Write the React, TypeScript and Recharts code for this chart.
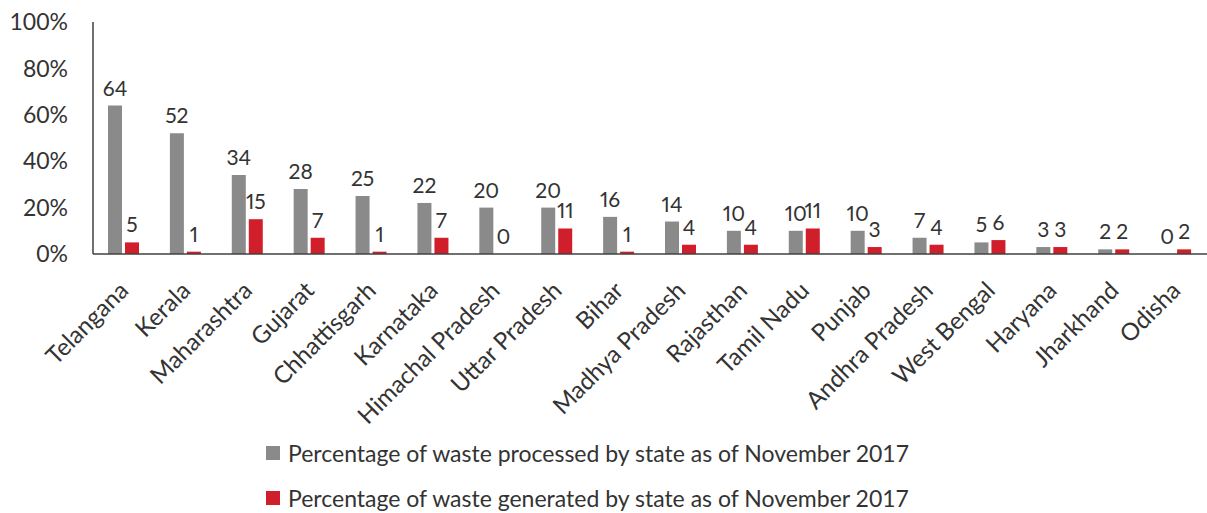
import React from "react"
import { BarChart, Bar, XAxis, YAxis, Legend, LabelList } from "recharts"

const states = [
  "Telangana", "Kerala", "Maharashtra", "Gujarat", "Chhattisgarh", "Karnataka",
  "Himachal Pradesh", "Uttar Pradesh", "Bihar", "Madhya Pradesh", "Rajasthan",
  "Tamil Nadu", "Punjab", "Andhra Pradesh", "West Bengal", "Haryana", "Jharkhand", "Odisha",
]
const processed = [64, 52, 34, 28, 25, 22, 20, 20, 16, 14, 10, 10, 10, 7, 5, 3, 2, 0]
const generated = [5, 1, 15, 7, 1, 7, 0, 11, 1, 4, 4, 11, 3, 4, 6, 3, 2, 2]
const yTicks = [0, 20, 40, 60, 80, 100]
const seriesNames = [
  "Percentage of waste processed by state as of November 2017",
  "Percentage of waste generated by state as of November 2017",
]

const GREY = "#8a8a8a"
const RED = "#d01f2a"
const FONT = "Lato, 'Open Sans', sans-serif"

const data = states.map((state, i) => ({
  state,
  processed: processed[i],
  generated: generated[i],
  processedLabel: String(processed[i]),
  generatedLabel: String(generated[i]),
}))

// zero bars get a hairline so their "0" label is still drawn
const tinyForZero = (v: any) => (Number(Array.isArray(v) ? v[1] : v) === 0 ? 0.01 : 0)

const labelStyle = { fontVariantNumeric: "proportional-nums" }

function StateTick({ x, y, payload }: any) {
  return (
    <g transform={`translate(${x},${y})`}>
      <text x={6} y={30} textAnchor="end" transform="rotate(-45 6 30)" fontSize={24} fill="#333" fontFamily={FONT}>
        {payload.value}
      </text>
    </g>
  )
}

function LegendBox() {
  const colors = [GREY, RED]
  return (
    <div style={{ paddingLeft: 266, fontFamily: FONT, fontSize: 23, color: "#333", textAlign: "left" }}>
      {seriesNames.map((name, i) => (
        <div key={name} style={{ display: "flex", alignItems: "center", height: 45 }}>
          <span style={{ width: 14, height: 14, background: colors[i], marginRight: 8 }} />
          <span>{name}</span>
        </div>
      ))}
    </div>
  )
}

export default function App() {
  return (
    <div style={{ position: "absolute", left: 0, top: 0, background: "#fff" }}>
      <BarChart
        width={1207}
        height={513}
        data={data}
        margin={{ top: 22, right: 0, bottom: 0, left: 0 }}
        barCategoryGap={15}
        barGap={3}
      >
        <XAxis
          dataKey="state"
          interval={0}
          tickLine={false}
          axisLine={{ stroke: "#404040", strokeWidth: 1.5 }}
          tick={<StateTick />}
          height={169}
        />
        <YAxis
          domain={[0, 100]}
          ticks={yTicks}
          tickFormatter={(v) => `${v}%`}
          width={93}
          tickLine={false}
          tickSize={0}
          tickMargin={25}
          axisLine={{ stroke: "#404040", strokeWidth: 1.5 }}
          tick={{ fontSize: 23, fill: "#333", fontFamily: FONT }}
        />
        <Legend
          verticalAlign="bottom"
          align="left"
          layout="horizontal"
          content={<LegendBox />}
          wrapperStyle={{ left: 0, bottom: -7 }}
        />
        <Bar dataKey="processed" name={seriesNames[0]} fill={GREY} barSize={14} minPointSize={tinyForZero} isAnimationActive={false}>
          <LabelList dataKey="processedLabel" position="top" offset={10} fontSize={21} fill="#333" fontFamily={FONT} style={labelStyle} />
        </Bar>
        <Bar dataKey="generated" name={seriesNames[1]} fill={RED} barSize={14} minPointSize={tinyForZero} isAnimationActive={false}>
          <LabelList dataKey="generatedLabel" position="top" offset={10} fontSize={21} fill="#333" fontFamily={FONT} style={labelStyle} />
        </Bar>
      </BarChart>
    </div>
  )
}
